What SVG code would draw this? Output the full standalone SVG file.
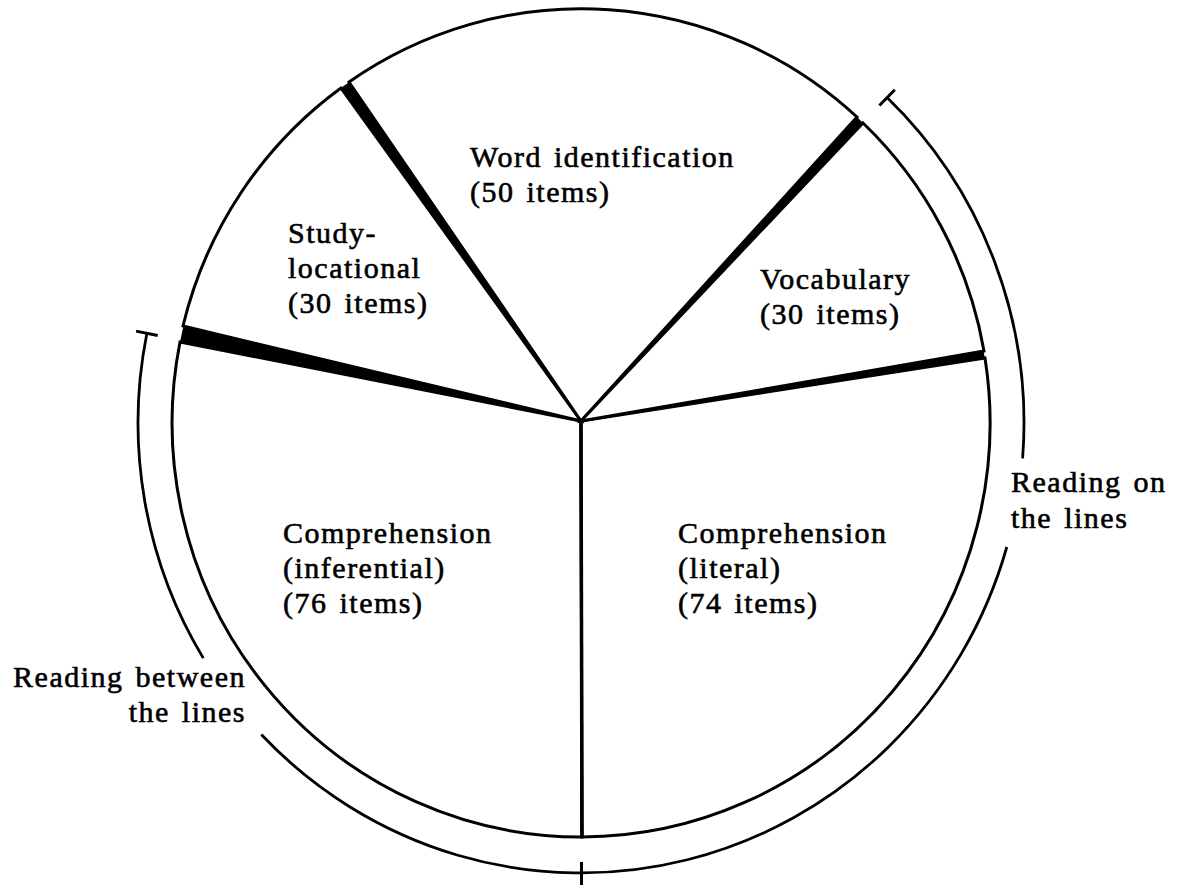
<svg xmlns="http://www.w3.org/2000/svg" width="1178" height="887" viewBox="0 0 1178 887">
<style>
  .slice { fill: #fff; stroke: #000; stroke-width: 3; stroke-linejoin: miter; }
  .wedge { fill: #000; stroke: #000; stroke-width: 1.5; stroke-linejoin: round; }
  .bracket { fill: none; stroke: #000; stroke-width: 2.8; }
  .tick { stroke: #000; stroke-width: 3; }
  text { font-family: "Liberation Serif", "Times New Roman", serif; font-size: 30px; letter-spacing: 1.5px; word-spacing: 3px; fill: #000; stroke: #000; stroke-width: 0.6px; }
</style>
<rect width="1178" height="887" fill="#fff"/>

<g id="slice-inferential">
  <path class="slice" d="M581,421 L582,837 A409,414 0 0 1 180,342 Z"/>
  <text x="283" y="543">Comprehension</text>
  <text x="283" y="578">(inferential)</text>
  <text x="283" y="613">(76 items)</text>
</g>
<g id="slice-literal">
  <path class="slice" d="M581,421 L985,358 A409,414 0 0 1 582,837 Z"/>
  <text x="678" y="543">Comprehension</text>
  <text x="678" y="578">(literal)</text>
  <text x="678" y="613">(74 items)</text>
</g>
<g id="slice-study">
  <path class="slice" d="M581,421 L183,326 A409,414 0 0 1 341,88 Z"/>
  <text x="288" y="243">Study-</text>
  <text x="288" y="278">locational</text>
  <text x="288" y="313">(30 items)</text>
</g>
<g id="slice-word">
  <path class="slice" d="M581,421 L349,82 A409,414 0 0 1 857,117 Z"/>
  <text x="470" y="167">Word identification</text>
  <text x="470" y="202">(50 items)</text>
</g>
<g id="slice-vocabulary">
  <path class="slice" d="M581,421 L863,123 A409,414 0 0 1 984,351 Z"/>
  <text x="760" y="289">Vocabulary</text>
  <text x="760" y="324">(30 items)</text>
</g>

<g id="connectors">
  <polygon class="wedge" points="581,421 184,327 181,341"/>
  <polygon class="wedge" points="581,421 342,88 349,83"/>
  <polygon class="wedge" points="581,421 857,118 862,123"/>
  <polygon class="wedge" points="581,421 983,352 984,358"/>
  <line x1="581" y1="421" x2="582" y2="837" stroke="#000" stroke-width="3.5"/>
</g>

<g id="bracket-on-the-lines">
  <path class="bracket" d="M887.1,97.6 A443,450 0 0 1 1022.6,458.3"/>
  <path class="bracket" d="M1006.8,547 A443,450 0 0 1 261.3,734.5"/>
  <line class="tick" x1="879.4" y1="105.5" x2="894.8" y2="89.7"/>
  <line class="tick" x1="581.5" y1="862" x2="581.5" y2="885"/>
  <text x="1011" y="492">Reading on</text>
  <text x="1011" y="528">the lines</text>
</g>
<g id="bracket-between-the-lines">
  <path class="bracket" d="M203.3,658.1 A443,450 0 0 1 146.9,333.3"/>
  <line class="tick" x1="136.1" y1="331.1" x2="157.7" y2="335.5"/>
  <text x="246" y="687" text-anchor="end">Reading between</text>
  <text x="246" y="722" text-anchor="end">the lines</text>
</g>
</svg>
